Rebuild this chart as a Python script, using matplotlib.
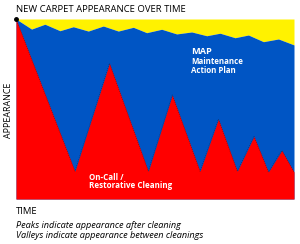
import matplotlib
matplotlib.use("Agg")
import matplotlib.pyplot as plt

# ----- Data ---------------------------------------------------------------
# time axis 0..100, appearance 0..100
map_time = [0, 5.6, 10.4, 15.8, 20.6, 26.0, 31.4, 36.8, 42.2, 47.0,
            52.4, 57.8, 63.2, 68.6, 73.4, 78.8, 83.6, 89.0, 94.4, 100]
map_appearance = [100, 94.4, 97.1, 93.5, 95.7, 93.3, 96.1, 93.3, 95.4, 92.4,
                  94.3, 91.7, 92.8, 90.7, 92.1, 89.6, 91.1, 87.4, 88.9, 85.6]

oncall_time = [0, 21.2, 33.6, 47.6, 56.2, 66.2, 72.8, 79.6, 85.6, 90.8, 95.6, 100]
oncall_appearance = [100, 15.4, 75.4, 15.4, 57.8, 15.4, 44.4, 15.4, 34.8, 15.0, 27.0, 15.0]

YELLOW = "#FFF200"
BLUE = "#0055C4"
RED = "#FF0000"

W, H = 300, 244
fig = plt.figure(figsize=(W / 100, H / 100), dpi=100)
fig.patch.set_facecolor("white")

ax = fig.add_axes([16 / W, (H - 199) / H, 278 / W, 180 / H])
ax.set_xlim(0, 100)
ax.set_ylim(0, 100)

ax.fill_between(map_time, map_appearance, 100, color=YELLOW, lw=0)
ax.fill_between(map_time, 0, map_appearance, color=BLUE, lw=0)
ax.fill_between(oncall_time, 0, oncall_appearance, color=RED, lw=0)
ax.plot(oncall_time, oncall_appearance, color="black", lw=0.5, ls=(0, (1, 2)), alpha=0.5)
ax.plot([0], [100], "o", color="black", ms=2.5, clip_on=False)

ax.set_xticks([])
ax.set_yticks([])
for s in ax.spines.values():
    s.set_visible(False)

# ----- Text ---------------------------------------------------------------
def px(x, y):
    return x / W, 1 - y / H

font = "Open Sans"
fig.text(*px(16, 9), "NEW CARPET APPEARANCE OVER TIME", fontsize=6.8,
         family=font, va="center", ha="left", color="black")
fig.text(*px(9, 110), "APPEARANCE", fontsize=6.4, family=font,
         rotation=90, va="center", ha="center", color="black")
fig.text(*px(16, 211), "TIME", fontsize=6.8, family=font,
         va="center", ha="left", color="black")
fig.text(*px(16, 225), "Peaks indicate appearance after cleaning",
         fontsize=6.6, family=font, style="italic", va="center", ha="left")
fig.text(*px(16, 235), "Valleys indicate appearance between cleanings",
         fontsize=6.6, family=font, style="italic", va="center", ha="left")

fig.text(*px(191, 52), "MAP", fontsize=6.6, family=font, weight="bold",
         color="white", va="center", ha="left")
fig.text(*px(191, 62), "Maintenance", fontsize=5.7, family=font, weight="bold",
         color="white", va="center", ha="left")
fig.text(*px(191, 71), "Action Plan", fontsize=5.7, family=font, weight="bold",
         color="white", va="center", ha="left")
fig.text(*px(89, 177), "On-Call /", fontsize=5.8, family=font, weight="bold",
         color="white", va="center", ha="left")
fig.text(*px(89, 186), "Restorative Cleaning", fontsize=5.8, family=font,
         weight="bold", color="white", va="center", ha="left")

fig.savefig("out.png", dpi=100)
